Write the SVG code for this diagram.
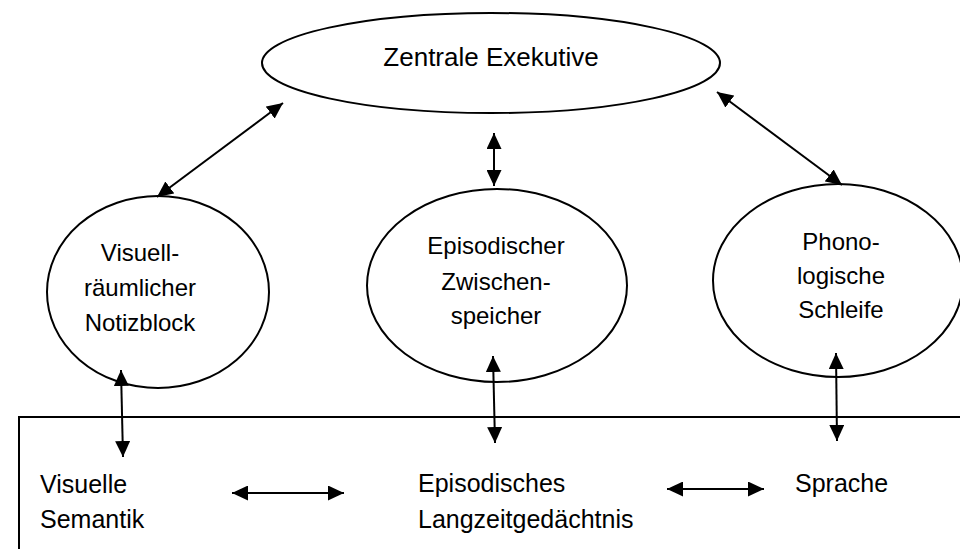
<svg xmlns="http://www.w3.org/2000/svg" width="960" height="549" viewBox="0 0 960 549">
<defs>
<style>
.node{fill:#fff;stroke:#000;stroke-width:2}
.t{font-family:"Liberation Sans",Arial,sans-serif;fill:#000}
.c{text-anchor:middle;font-size:24px}
.b{font-size:25px}
.ar{stroke:#000;stroke-width:2;fill:none;marker-start:url(#ah);marker-end:url(#ah)}
</style>
<marker id="ah" markerUnits="userSpaceOnUse" markerWidth="16" markerHeight="15" refX="16" refY="7.5" orient="auto-start-reverse" viewBox="0 0 16 15">
<path d="M0,0 L16,7.5 L0,15 z" fill="#000"/>
</marker>
</defs>
<rect width="960" height="549" fill="#fff"/>
<g id="langzeit">
<rect x="19" y="417" width="960" height="160" fill="none" stroke="#000" stroke-width="2"/>
</g>
<g id="zentrale">
<ellipse class="node" cx="491" cy="63" rx="229" ry="50"/>
<text class="t" x="491" y="66" text-anchor="middle" font-size="26">Zentrale Exekutive</text>
</g>
<g id="visuell">
<ellipse class="node" cx="158" cy="292" rx="111" ry="96"/>
<text class="t c" x="140" y="261">Visuell-</text>
<text class="t c" x="140" y="296">räumlicher</text>
<text class="t c" x="140" y="331">Notizblock</text>
</g>
<g id="episodisch">
<ellipse class="node" cx="497" cy="285.5" rx="130" ry="96.5"/>
<text class="t c" x="496" y="254">Episodischer</text>
<text class="t c" x="496" y="290">Zwischen-</text>
<text class="t c" x="496" y="324">speicher</text>
</g>
<g id="phono">
<ellipse class="node" cx="838" cy="280.5" rx="125" ry="96.5"/>
<text class="t c" x="841" y="250">Phono-</text>
<text class="t c" x="841" y="284">logische</text>
<text class="t c" x="841" y="318">Schleife</text>
</g>
<g id="visuelle-semantik">
<text class="t b" x="40" y="493">Visuelle</text>
<text class="t b" x="40" y="528">Semantik</text>
</g>
<g id="episodisches-ltm">
<text class="t b" x="418" y="492">Episodisches</text>
<text class="t b" x="418" y="528">Langzeitgedächtnis</text>
</g>
<g id="sprache">
<text class="t b" x="795" y="492">Sprache</text>
</g>
<g id="connectors">
<line class="ar" x1="157" y1="197" x2="283" y2="103"/>
<line class="ar" x1="494" y1="133" x2="494" y2="186"/>
<line class="ar" x1="717" y1="92" x2="842" y2="185"/>
<line class="ar" x1="121" y1="370" x2="123" y2="457"/>
<line class="ar" x1="493" y1="356" x2="495" y2="443"/>
<line class="ar" x1="836" y1="353" x2="837" y2="441"/>
<line class="ar" x1="232" y1="493" x2="344" y2="493"/>
<line class="ar" x1="667" y1="489" x2="764" y2="489"/>
</g>
</svg>
